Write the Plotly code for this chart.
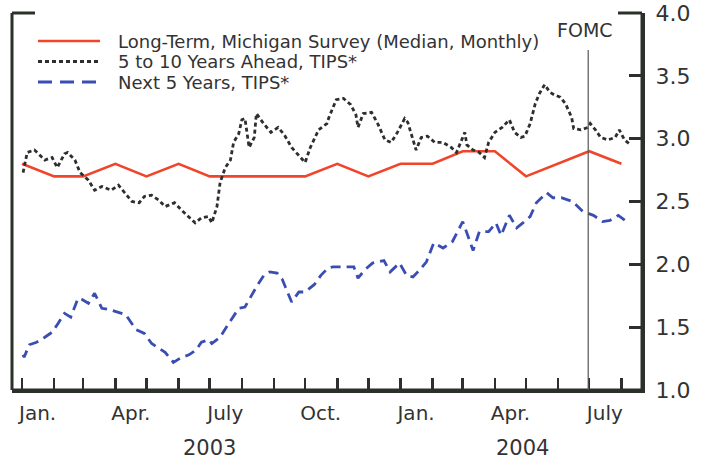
import plotly.graph_objects as go

# ---------------- data ----------------
mich_dates = ["2003-01-01", "2003-02-01", "2003-03-01", "2003-04-01", "2003-05-01",
              "2003-06-01", "2003-07-01", "2003-08-01", "2003-09-01", "2003-10-01",
              "2003-11-01", "2003-12-01", "2004-01-01", "2004-02-01", "2004-03-01",
              "2004-04-01", "2004-05-01", "2004-06-01", "2004-07-01", "2004-08-01"]
mich_vals = [2.8, 2.7, 2.7, 2.8, 2.7, 2.8, 2.7, 2.7, 2.7, 2.7,
             2.8, 2.7, 2.8, 2.8, 2.9, 2.9, 2.7, 2.8, 2.9, 2.8]

fwd_dates = ["2003-01-02", "2003-01-06", "2003-01-13", "2003-01-23", "2003-01-30",
             "2003-02-04", "2003-02-11", "2003-02-14", "2003-02-21", "2003-02-26",
             "2003-03-06", "2003-03-12", "2003-03-19", "2003-03-28", "2003-04-04",
             "2003-04-10", "2003-04-17", "2003-04-24", "2003-04-29", "2003-05-06",
             "2003-05-13", "2003-05-19", "2003-05-28", "2003-06-04", "2003-06-11",
             "2003-06-17", "2003-06-23", "2003-06-30", "2003-07-03", "2003-07-08",
             "2003-07-11", "2003-07-16", "2003-07-21", "2003-07-24", "2003-07-29",
             "2003-08-01", "2003-08-04", "2003-08-08", "2003-08-13", "2003-08-15",
             "2003-08-22", "2003-08-29", "2003-09-05", "2003-09-11", "2003-09-18",
             "2003-09-25", "2003-10-01", "2003-10-06", "2003-10-14", "2003-10-22",
             "2003-10-24", "2003-10-31", "2003-11-07", "2003-11-14", "2003-11-19",
             "2003-11-21", "2003-11-26", "2003-12-04", "2003-12-10", "2003-12-17",
             "2003-12-23", "2003-12-29", "2004-01-05", "2004-01-08", "2004-01-13",
             "2004-01-16", "2004-01-21", "2004-01-27", "2004-02-03", "2004-02-11",
             "2004-02-19", "2004-02-24", "2004-03-01", "2004-03-03", "2004-03-05",
             "2004-03-11", "2004-03-17", "2004-03-22", "2004-03-26", "2004-04-01",
             "2004-04-08", "2004-04-15", "2004-04-20", "2004-04-26", "2004-04-30",
             "2004-05-05", "2004-05-10", "2004-05-14", "2004-05-19", "2004-05-24",
             "2004-05-28", "2004-06-03", "2004-06-08", "2004-06-14", "2004-06-16",
             "2004-06-23", "2004-06-30", "2004-07-02", "2004-07-07", "2004-07-12",
             "2004-07-19", "2004-07-26", "2004-07-30", "2004-08-04", "2004-08-10"]
fwd_vals = [2.73, 2.89, 2.91, 2.83, 2.85, 2.77, 2.88, 2.89, 2.83, 2.73,
            2.67, 2.59, 2.62, 2.59, 2.63, 2.57, 2.50, 2.49, 2.54, 2.55,
            2.51, 2.46, 2.49, 2.43, 2.38, 2.33, 2.37, 2.38, 2.33, 2.46,
            2.65, 2.77, 2.83, 2.97, 3.04, 3.15, 3.16, 2.93, 3.01, 3.20,
            3.12, 3.05, 3.09, 3.03, 2.93, 2.87, 2.81, 2.93, 3.07, 3.12,
            3.17, 3.31, 3.32, 3.27, 3.19, 3.09, 3.20, 3.21, 3.12, 2.99,
            2.97, 3.05, 3.16, 3.13, 2.99, 2.91, 3.01, 3.02, 2.97, 2.97,
            2.93, 2.89, 3.01, 3.05, 2.95, 2.91, 2.89, 2.85, 2.97, 3.05,
            3.09, 3.15, 3.05, 3.01, 3.02, 3.12, 3.28, 3.36, 3.43, 3.37,
            3.35, 3.33, 3.28, 3.17, 3.08, 3.07, 3.09, 3.12, 3.07, 3.01,
            2.99, 3.01, 3.07, 2.99, 2.95]

near_dates = ["2003-01-02", "2003-01-03", "2003-01-08", "2003-01-15", "2003-01-23",
              "2003-01-30", "2003-02-04", "2003-02-11", "2003-02-17", "2003-02-24",
              "2003-02-28", "2003-03-06", "2003-03-12", "2003-03-19", "2003-03-26",
              "2003-04-02", "2003-04-11", "2003-04-21", "2003-04-29", "2003-05-06",
              "2003-05-13", "2003-05-19", "2003-05-27", "2003-06-04", "2003-06-11",
              "2003-06-18", "2003-06-23", "2003-06-30", "2003-07-03", "2003-07-11",
              "2003-07-17", "2003-07-22", "2003-07-29", "2003-08-04", "2003-08-08",
              "2003-08-15", "2003-08-22", "2003-08-28", "2003-09-04", "2003-09-09",
              "2003-09-12", "2003-09-18", "2003-09-25", "2003-10-01", "2003-10-10",
              "2003-10-16", "2003-10-23", "2003-10-28", "2003-11-07", "2003-11-17",
              "2003-11-21", "2003-11-28", "2003-12-05", "2003-12-16", "2003-12-22",
              "2003-12-31", "2004-01-07", "2004-01-13", "2004-01-20", "2004-01-26",
              "2004-02-02", "2004-02-11", "2004-02-20", "2004-03-01", "2004-03-05",
              "2004-03-11", "2004-03-17", "2004-03-26", "2004-04-02", "2004-04-07",
              "2004-04-15", "2004-04-22", "2004-04-28", "2004-05-05", "2004-05-11",
              "2004-05-21", "2004-05-27", "2004-06-04", "2004-06-15", "2004-06-25",
              "2004-07-05", "2004-07-14", "2004-07-21", "2004-07-29", "2004-08-06"]
near_vals = [1.28, 1.26, 1.36, 1.38, 1.42, 1.46, 1.52, 1.61, 1.58, 1.73,
             1.72, 1.69, 1.77, 1.65, 1.64, 1.62, 1.60, 1.48, 1.45, 1.37,
             1.33, 1.30, 1.22, 1.26, 1.28, 1.32, 1.38, 1.40, 1.37, 1.42,
             1.50, 1.56, 1.65, 1.66, 1.72, 1.82, 1.91, 1.94, 1.93, 1.88,
             1.82, 1.70, 1.78, 1.78, 1.84, 1.91, 1.97, 1.98, 1.98, 1.98,
             1.89, 1.96, 2.01, 2.03, 1.94, 2.01, 1.91, 1.90, 1.96, 2.02,
             2.17, 2.13, 2.18, 2.34, 2.25, 2.11, 2.26, 2.26, 2.33, 2.23,
             2.39, 2.29, 2.33, 2.38, 2.49, 2.57, 2.53, 2.53, 2.50, 2.42,
             2.39, 2.34, 2.35, 2.39, 2.34]

month_ticks = ["2003-01-01", "2003-02-01", "2003-03-01", "2003-04-01", "2003-05-01",
               "2003-06-01", "2003-07-01", "2003-08-01", "2003-09-01", "2003-10-01",
               "2003-11-01", "2003-12-01", "2004-01-01", "2004-02-01", "2004-03-01",
               "2004-04-01", "2004-05-01", "2004-06-01", "2004-07-01", "2004-08-01"]
label_dates = ["2003-01-16", "2003-04-16", "2003-07-16", "2003-10-16",
               "2004-01-16", "2004-04-16", "2004-07-16"]
label_text = ["Jan.", "Apr.", "July", "Oct.", "Jan.", "Apr.", "July"]
year_dates = ["2003-07-01", "2004-04-28"]
year_text = ["2003", "2004"]
y_ticks = [1.0, 1.5, 2.0, 2.5, 3.0, 3.5, 4.0]
y_ticktext = ["1.0", "1.5", "2.0", "2.5", "3.0", "3.5", "4.0"]
fomc_date = "2004-06-30"
series_names = ["Long-Term, Michigan Survey (Median, Monthly)",
                "5 to 10 Years Ahead, TIPS*",
                "Next 5 Years, TIPS*"]

# ---------------- style ----------------
FONT = "DejaVu Sans, Liberation Sans, Arial, sans-serif"
TXT = "#333333"
AX = "#2b302b"
RED = "#f0452a"
BLK = "#2e2e2e"
BLUE = "#3a4db3"
RED_W, BLK_W, BLUE_W = 2.6, 2.8, 2.8
BLK_DASH = "4px,3px"
BLUE_DASH = "10px,6px"

xrange = ["2002-12-22 08:00", "2004-08-20 21:00"]

fig = go.Figure()
fig.add_trace(go.Scatter(x=mich_dates, y=mich_vals, mode="lines", name=series_names[0],
                         line=dict(color=RED, width=RED_W), yaxis="y"))
fig.add_trace(go.Scatter(x=fwd_dates, y=fwd_vals, mode="lines", name=series_names[1],
                         line=dict(color=BLK, width=BLK_W, dash=BLK_DASH), yaxis="y"))
fig.add_trace(go.Scatter(x=near_dates, y=near_vals, mode="lines", name=series_names[2],
                         line=dict(color=BLUE, width=BLUE_W, dash=BLUE_DASH), yaxis="y"))

fig.update_layout(
    width=707, height=461,
    margin=dict(l=12, r=65, t=13, b=71, autoexpand=False),
    paper_bgcolor="white", plot_bgcolor="white",
    showlegend=False, hovermode=False,
    font=dict(family=FONT, color=TXT),
    xaxis=dict(type="date", range=xrange, tickvals=month_ticks, showticklabels=False,
               ticks="inside", ticklen=12, tickwidth=2.5, tickcolor=AX, automargin=False,
               showline=True, linewidth=3, linecolor=AX, showgrid=False, zeroline=False),
    xaxis2=dict(type="date", range=xrange, overlaying="x", side="bottom", anchor="y",
                tickvals=label_dates, ticktext=label_text, ticks="", showline=False,
                showgrid=False, zeroline=False, ticklabelstandoff=9, automargin=False,
                tickfont=dict(size=20, color=TXT, family=FONT)),
    yaxis=dict(range=[1, 4], side="right", tickvals=y_ticks, ticktext=y_ticktext,
               ticks="inside", ticklen=13, tickwidth=3, tickcolor=AX, automargin=False,
               showline=True, linewidth=3, linecolor=AX, showgrid=False, zeroline=False,
               ticklabelstandoff=6, tickfont=dict(size=22, color=TXT, family=FONT)),
    yaxis2=dict(range=[1, 4], side="left", overlaying="y", anchor="x",
                tickvals=y_ticks[1:-1], showticklabels=False, automargin=False,
                ticks="inside", ticklen=12, tickwidth=3, tickcolor=AX,
                showline=True, linewidth=3, linecolor=AX, showgrid=False, zeroline=False),
)

# dummy trace so xaxis2 renders
fig.add_trace(go.Scatter(x=[label_dates[0]], y=[None], xaxis="x2", yaxis="y",
                         showlegend=False, hoverinfo="skip"))

# frame lines (left, right, bottom) and top corner marks (4.0 ticks)
frame = [(0, 0, 0, 1), (1, 1, 0, 1), (0, 1, 0, 0),
         (0, 23 / 630, 1, 1), (1 - 24 / 630, 1, 1, 1)]
for fx0, fx1, fy0, fy1 in frame:
    fig.add_shape(type="line", xref="paper", yref="paper", x0=fx0, x1=fx1, y0=fy0, y1=fy1,
                  line=dict(color=AX, width=3), layer="above")

# FOMC line
fig.add_shape(type="line", xref="x", yref="paper", x0=fomc_date, x1=fomc_date,
              y0=0, y1=0.902, line=dict(color="#555555", width=1.2))
fig.add_annotation(x=fomc_date, xref="x", y=0.955, yref="paper", text="FOMC",
                   showarrow=False, xanchor="center", yanchor="middle", xshift=-3,
                   font=dict(size=19, color=TXT, family=FONT))

# year labels
for d, t in zip(year_dates, year_text):
    fig.add_annotation(x=d, xref="x", y=-0.154, yref="paper", text=t, showarrow=False,
                       xanchor="center", yanchor="middle",
                       font=dict(size=21, color=TXT, family=FONT))

# manual legend
leg_px = [41, 61.5, 82]
leg_rows = [(390 - p) / 377 for p in leg_px]
leg_styles = [(RED, RED_W, "solid"), (BLK, BLK_W, BLK_DASH), (BLUE, BLUE_W, "14px,8px")]
x0s, x1s = (38 - 12) / 630, (100 - 12) / 630
for yy, (c, w, dsh), name in zip(leg_rows, leg_styles, series_names):
    fig.add_shape(type="line", xref="paper", yref="paper", x0=x0s, x1=x1s, y0=yy, y1=yy,
                  line=dict(color=c, width=w, dash=dsh))
    fig.add_annotation(x=(116 - 12) / 630, xref="paper", y=yy, yref="paper", text=name,
                       showarrow=False, xanchor="left", yanchor="middle",
                       font=dict(size=18, color=TXT, family=FONT))

fig.write_html("out.html", config={"displayModeBar": False, "staticPlot": True},
               post_script="document.body.style.margin='0';document.body.style.padding='0';")
